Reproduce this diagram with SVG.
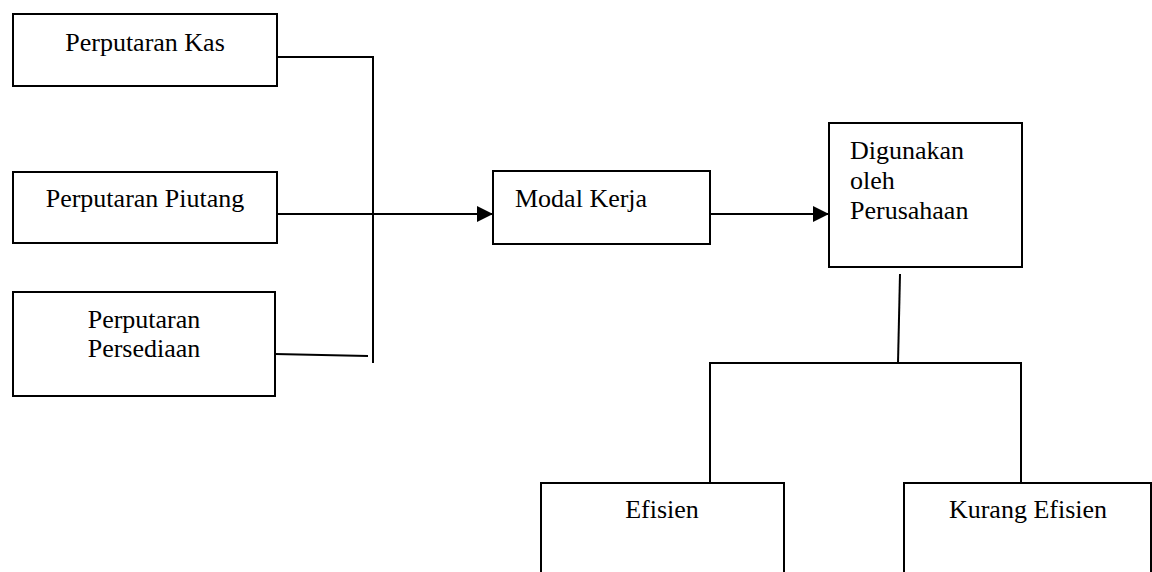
<svg xmlns="http://www.w3.org/2000/svg" width="1152" height="572" viewBox="0 0 1152 572">
<style>
.box{fill:#fff;stroke:#000;stroke-width:2}
.ln{fill:none;stroke:#000;stroke-width:2}
.t{font-family:"Liberation Serif","Times New Roman",serif;font-size:26px;fill:#000}
</style>
<defs>
<marker id="ah" markerWidth="16" markerHeight="16" refX="16" refY="8" orient="auto" markerUnits="userSpaceOnUse">
<path d="M0,0 L16,8 L0,16 Z" fill="#000"/>
</marker>
</defs>
<rect width="1152" height="572" fill="#fff"/>
<g id="n-kas"><rect class="box" x="13" y="14" width="264" height="72"/><text class="t" x="145" y="51" text-anchor="middle">Perputaran Kas</text></g>
<g id="n-piutang"><rect class="box" x="13" y="172" width="264" height="71"/><text class="t" x="145" y="207" text-anchor="middle">Perputaran Piutang</text></g>
<g id="n-persediaan"><rect class="box" x="13" y="292" width="262" height="104"/><text class="t" x="144" y="328" text-anchor="middle">Perputaran</text><text class="t" x="144" y="357" text-anchor="middle">Persediaan</text></g>
<g id="n-modal"><rect class="box" x="493" y="171" width="217" height="73"/><text class="t" x="515" y="207">Modal Kerja</text></g>
<g id="n-digunakan"><rect class="box" x="829" y="123" width="193" height="144"/><text class="t" x="850" y="159">Digunakan</text><text class="t" x="850" y="189">oleh</text><text class="t" x="850" y="219">Perusahaan</text></g>
<g id="n-efisien"><rect class="box" x="541" y="483" width="243" height="100"/><text class="t" x="662" y="518" text-anchor="middle">Efisien</text></g>
<g id="n-kurang"><rect class="box" x="904" y="483" width="247" height="100"/><text class="t" x="1028" y="518" text-anchor="middle">Kurang Efisien</text></g>
<g id="connectors">
<path class="ln" d="M277,57 H373 V363"/>
<path class="ln" d="M275,354 L368,356"/>
<path class="ln" d="M277,214 H493" marker-end="url(#ah)"/>
<path class="ln" d="M710,214 H829" marker-end="url(#ah)"/>
<path class="ln" d="M900,274 L898,363"/>
<path class="ln" d="M710,483 V363 H1021 V483"/>
</g>
</svg>
